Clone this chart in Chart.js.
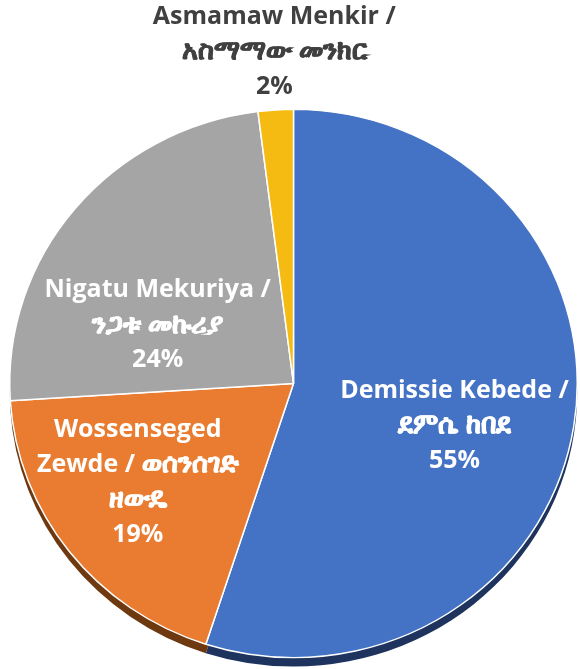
<!DOCTYPE html>
<html>
<head>
<meta charset="utf-8">
<script src="https://cdn.jsdelivr.net/npm/chart.js@4"></script>
<style>
  html, body { margin: 0; padding: 0; background: #fff; }
</style>
</head>
<body>
<canvas id="pie" width="580" height="669"></canvas>
<script>
// Candidate shares, tilted 3D-look pie.
const categories = [
  ["Demissie Kebede /", "ደምሴ ከበደ"],
  ["Wossenseged", "Zewde / ወሰንሰገድ", "ዘውዴ"],
  ["Nigatu Mekuriya /", "ንጋቱ መኩሪያ"],
  ["Asmamaw Menkir /", "አስማማው መንክር"]
];
const shares = [55, 19, 24, 2];

const sliceColors = ["#4472C4", "#E97C30", "#A5A5A5", "#F6BB12"];
const edgeColors = ["#1E345E", "#6E3810", "#5E5E5E", "#8A6A00"];

const TILT = 0.966;   // vertical squash of the pie
const DEPTH = 9;      // thickness of the side wall, px

// squash the pie and draw a darker copy underneath as the side wall
const tiltPlugin = {
  id: "tilt",
  beforeDatasetsDraw(chart) {
    const ctx = chart.ctx;
    const arcs = chart.getDatasetMeta(0).data;
    const cy = arcs[0].y;
    ctx.save();
    ctx.translate(0, cy);
    ctx.scale(1, TILT);
    ctx.translate(0, -cy);
    ctx.save();
    ctx.translate(0, DEPTH / TILT);
    arcs.forEach((a, i) => {
      ctx.beginPath();
      ctx.moveTo(a.x, a.y);
      ctx.arc(a.x, a.y, a.outerRadius, a.startAngle, a.endAngle);
      ctx.closePath();
      ctx.fillStyle = edgeColors[i];
      ctx.fill();
    });
    ctx.restore();
  },
  afterDatasetsDraw(chart) {
    chart.ctx.restore();
  }
};

// latin and ethiopic runs get their own font so both look the same weight
function drawLine(ctx, text, cx, y, opts) {
  const runs = text.split(/([\u1200-\u139F][\u1200-\u139F ]*)/).filter(s => s);
  const fonts = runs.map(r => /[\u1200-\u139F]/.test(r) ? opts.ethiopicFont : opts.font);
  let w = 0;
  runs.forEach((r, k) => { ctx.font = fonts[k]; w += ctx.measureText(r).width; });
  let x = cx - w / 2;
  runs.forEach((r, k) => {
    ctx.font = fonts[k];
    ctx.fillText(r, x, y);
    if (fonts[k] === opts.ethiopicFont) ctx.strokeText(r, x, y);
    x += ctx.measureText(r).width;
  });
}

const labelPlugin = {
  id: "sliceLabels",
  afterDraw(chart, args, opts) {
    const ctx = chart.ctx;
    const meta = chart.getDatasetMeta(0);
    const total = shares.reduce((s, v) => s + v, 0);
    ctx.save();
    ctx.textAlign = "left";
    ctx.textBaseline = "middle";
    ctx.lineWidth = 0.8;
    meta.data.forEach((a, i) => {
      const p = opts.place[i];
      const mid = (a.startAngle + a.endAngle) / 2 + p.turn * Math.PI / 180;
      const r = a.outerRadius * p.reach;
      const x = a.x + Math.cos(mid) * r;
      const y = a.y + Math.sin(mid) * r * TILT;
      const lines = [...categories[i], Math.round(shares[i] / total * 100) + "%"];
      const top = y - (lines.length - 1) * opts.lineHeight / 2;
      ctx.fillStyle = p.color;
      ctx.strokeStyle = p.color;
      lines.forEach((t, j) => drawLine(ctx, t, x, top + j * opts.lineHeight, opts));
    });
    ctx.restore();
  }
};

new Chart(document.getElementById("pie"), {
  type: "pie",
  data: {
    labels: categories,
    datasets: [{
      data: shares,
      backgroundColor: sliceColors,
      borderColor: "#FFFFFF",
      borderWidth: 1.5
    }]
  },
  options: {
    responsive: false,
    animation: false,
    devicePixelRatio: 1,
    layout: { padding: { left: 9, right: 2, top: 99, bottom: 1 } },
    plugins: {
      legend: { display: false },
      tooltip: { enabled: false },
      sliceLabels: {
        font: "bold 25px 'Open Sans', Lato, sans-serif",
        ethiopicFont: "bold 27px sans-serif",
        lineHeight: 35,
        place: [
          { turn: 6.3, reach: 0.588, color: "#FFFFFF" },
          { turn: 4.6, reach: 0.656, color: "#FFFFFF" },
          { turn: -15.6, reach: 0.524, color: "#FFFFFF" },
          { turn: 0.4, reach: 1.213, color: "#404040" }
        ]
      }
    }
  },
  plugins: [tiltPlugin, labelPlugin]
});
</script>
</body>
</html>
